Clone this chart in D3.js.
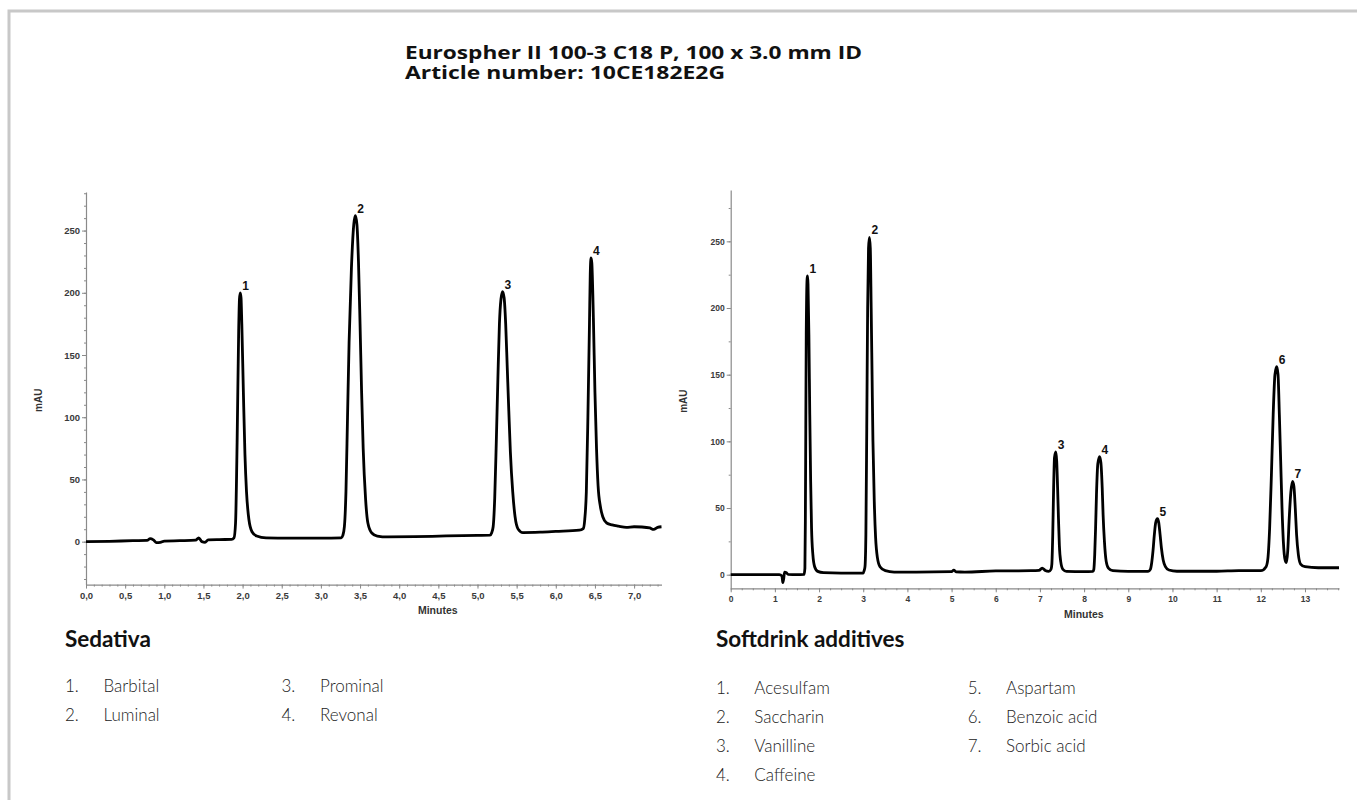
<!DOCTYPE html>
<html><head><meta charset="utf-8">
<script src="https://cdn.jsdelivr.net/npm/d3@7"></script>
<style>
html,body{margin:0;padding:0;background:#fff;}
svg{display:block;}
</style></head>
<body>
<svg id="chart" width="1357" height="800"></svg>
<script>
// ---------- DATA ----------
const titleLines = ["Eurospher II 100-3 C18 P, 100 x 3.0 mm ID", "Article number: 10CE182E2G"];
const titleWidths = [457, 320];

// Left chromatogram: Sedativa  [minutes, mAU]
const sedativaTrace = [
 [0,0],[0.3,0.3],[0.6,0.8],[0.78,1],[0.82,2.5],[0.86,1.5],[0.9,-0.8],[0.95,-0.5],[1.0,0.5],[1.2,0.8],[1.4,1.2],
 [1.44,3],[1.48,0],[1.52,-0.5],[1.56,1.5],[1.7,1.7],[1.86,1.8],[1.89,3],
 [1.91,15],[1.93,80],[1.95,170],[1.96,195],[1.97,200],[1.98,196],[1.99,175],[2.01,120],[2.03,70],[2.05,40],[2.08,18],
 [2.12,8],[2.18,4.5],[2.3,3],[2.6,2.8],[3.0,2.8],[3.26,3],
 [3.28,5],[3.3,12],[3.32,40],[3.34,100],[3.36,160],[3.39,220],[3.42,255],[3.44,262],[3.46,255],[3.48,225],[3.5,175],
 [3.52,120],[3.54,75],[3.57,35],[3.6,15],[3.65,7],[3.72,4.5],[3.85,3.8],[4.2,4],[4.6,4.6],[5.0,5],[5.16,5.2],
 [5.18,7],[5.2,12],[5.22,35],[5.24,80],[5.26,130],[5.28,175],[5.3,195],[5.32,201],[5.34,196],[5.36,175],[5.38,140],
 [5.4,105],[5.42,72],[5.45,40],[5.48,20],[5.52,10],[5.58,7.3],[5.8,7.6],[6.0,8.2],[6.3,9.2],[6.35,10.5],
 [6.37,18],[6.39,40],[6.41,100],[6.43,175],[6.44,215],[6.45,228],[6.46,224],[6.48,180],[6.5,120],[6.52,75],
 [6.54,45],[6.57,28],[6.6,20],[6.65,15],[6.72,13.5],[6.8,12.5],[6.9,11.5],[7.0,12],[7.1,11.8],[7.2,11],
 [7.25,9.8],[7.3,11.5],[7.35,12]
];
const sedativaPeakIds = ["1","2","3","4"];
const sedativaPeakTimes = [1.97, 3.44, 5.32, 6.45];
const sedativaPeakHeights = [200, 262, 201, 228];
const sedativaXTicks = [0,0.5,1,1.5,2,2.5,3,3.5,4,4.5,5,5.5,6,6.5,7];
const sedativaYTicks = [0,50,100,150,200,250];
const sedativaNames = ["Barbital","Luminal","Prominal","Revonal"];

// Right chromatogram: Softdrink additives  [minutes, mAU]
const softdrinkTrace = [
 [0,0],[0.8,0],[1.1,0],[1.16,-1],[1.18,-6],[1.2,-3],[1.22,2],[1.26,1.5],[1.3,0.2],[1.5,0],[1.66,0.2],
 [1.68,5],[1.69,40],[1.70,110],[1.71,180],[1.73,222],[1.74,224],[1.75,218],[1.77,180],[1.79,120],[1.81,70],
 [1.83,35],[1.86,15],[1.9,6],[1.97,2.5],[2.1,1.5],[2.5,1.2],[3.0,1.2],[3.02,3],
 [3.04,6],[3.06,30],[3.08,110],[3.10,200],[3.12,245],[3.14,253],[3.16,245],[3.18,200],[3.2,150],[3.22,100],
 [3.25,55],[3.28,28],[3.32,13],[3.38,6],[3.5,3],[3.7,2],[4.2,2],[5.0,2.3],[5.05,3.5],[5.1,2.2],[5.3,2],
 [6.0,2.8],[6.8,3],[6.98,3.2],[7.05,5],[7.12,3.2],[7.2,2.5],[7.25,4],
 [7.27,8],[7.29,30],[7.31,65],[7.33,88],[7.36,92],[7.38,85],[7.40,65],[7.42,42],[7.44,22],[7.47,10],[7.52,4],
 [7.6,2.5],[8.0,2.3],[8.2,2.5],
 [8.22,4],[8.24,15],[8.26,35],[8.28,60],[8.31,83],[8.35,88.5],[8.38,84],[8.41,65],[8.43,45],[8.46,25],[8.5,10],
 [8.55,5],[8.65,3],[9.0,2.5],[9.45,2.5],[9.5,4],
 [9.53,9],[9.56,18],[9.59,30],[9.62,39],[9.66,42],[9.69,39],[9.72,30],[9.75,20],[9.79,11],[9.84,6],[9.92,3.5],
 [10.1,2.6],[11.0,2.6],[11.5,3],[12.0,3],[12.12,6],
 [12.16,12],[12.2,35],[12.24,75],[12.28,120],[12.32,150],[12.36,156],[12.39,150],[12.42,120],[12.45,85],
 [12.48,50],[12.51,25],[12.55,11],[12.58,9],[12.61,18],[12.64,40],[12.68,62],[12.72,70],[12.75,66],[12.78,50],
 [12.81,30],[12.85,15],[12.9,8],[13.0,6],[13.3,5.2],[13.77,5.2]
];
const softdrinkPeakIds = ["1","2","3","4","5","6","7"];
const softdrinkPeakTimes = [1.74, 3.14, 7.36, 8.35, 9.66, 12.36, 12.72];
const softdrinkPeakHeights = [224, 253, 92, 88.5, 42, 156, 70];
const softdrinkXTicks = [0,1,2,3,4,5,6,7,8,9,10,11,12,13];
const softdrinkYTicks = [0,50,100,150,200,250];
const softdrinkNames = ["Acesulfam","Saccharin","Vanilline","Caffeine","Aspartam","Benzoic acid","Sorbic acid"];

// ---------- DRAW ----------
const svg = d3.select("#chart");
const uiFont = "Lato, 'Open Sans', sans-serif";

// frame (top and left border)
svg.append("path").attr("d","M9,800 V11 H1357").attr("fill","none")
   .attr("stroke","#c8c8c8").attr("stroke-width",3);

// title
titleLines.forEach((t,i)=> svg.append("text").attr("x",405).attr("y",59+i*19.5)
  .attr("font-family","'Open Sans', Lato, sans-serif").attr("font-weight",700)
  .attr("font-size",18.5).attr("fill","#111")
  .attr("textLength",titleWidths[i]).attr("lengthAdjust","spacingAndGlyphs").text(t));

function chromatogram(cfg){
  const g = svg.append("g");
  const x = d3.scaleLinear().domain(cfg.xDomain).range(cfg.xRange);
  const y = d3.scaleLinear().domain(cfg.yDomain).range(cfg.yRange);
  const axisColor = "#8a8a8a";
  const tickFont = "Arial, 'Liberation Sans', sans-serif";

  // minor ticks
  g.append("g").attr("transform",`translate(0,${cfg.yRange[0]})`)
    .call(d3.axisBottom(x).tickValues(d3.range(cfg.xDomain[0], cfg.xDomain[1]+1e-9, cfg.xMinor)).tickSize(2).tickFormat(""))
    .call(a=>{a.selectAll("line").attr("stroke",axisColor);a.select(".domain").remove();});
  g.append("g").attr("transform",`translate(${cfg.xRange[0]},0)`)
    .call(d3.axisLeft(y).tickValues(d3.range(Math.ceil(cfg.yDomain[0]/cfg.yMinor)*cfg.yMinor, cfg.yDomain[1], cfg.yMinor)).tickSize(2).tickFormat(""))
    .call(a=>{a.selectAll("line").attr("stroke",axisColor);a.select(".domain").remove();});

  // major axes
  const xa = g.append("g").attr("transform",`translate(0,${cfg.yRange[0]})`)
    .call(d3.axisBottom(x).tickValues(cfg.xTicks).tickSize(4).tickSizeOuter(0).tickPadding(4).tickFormat(cfg.xFormat));
  const ya = g.append("g").attr("transform",`translate(${cfg.xRange[0]},0)`)
    .call(d3.axisLeft(y).tickValues(cfg.yTicks).tickSize(4).tickSizeOuter(0).tickPadding(2).tickFormat(d3.format("d")));
  [xa,ya].forEach(a=>{
    a.select(".domain").attr("stroke",axisColor).attr("stroke-width",1.2);
    a.selectAll(".tick line").attr("stroke",axisColor);
    a.selectAll(".tick text").attr("font-family",tickFont).attr("font-weight",700)
      .attr("font-size",cfg.tickSize).attr("fill","#3a3a3a");
  });

  // axis titles
  g.append("text").attr("x",(cfg.xRange[0]+cfg.xRange[1])/2 + cfg.minutesDx).attr("y",cfg.yRange[0]+cfg.minutesDy)
    .attr("text-anchor","middle").attr("font-family",tickFont).attr("font-weight",700)
    .attr("font-size",10.5).attr("fill","#333").text("Minutes");
  g.append("text").attr("transform",`translate(${cfg.mauX},${(cfg.yRange[0]+cfg.yRange[1])/2+12}) rotate(-90)`)
    .attr("text-anchor","middle").attr("font-family",tickFont).attr("font-weight",700)
    .attr("font-size",10).attr("fill","#333").text("mAU");

  // trace
  const line = d3.line().x(d=>x(d[0])).y(d=>y(d[1])).curve(d3.curveMonotoneX);
  g.append("path").datum(cfg.trace).attr("d",line).attr("fill","none")
    .attr("stroke","#000").attr("stroke-width",2.8).attr("stroke-linejoin","round");

  // peak labels
  cfg.ids.forEach((id,i)=>{
    g.append("text").attr("x",x(cfg.times[i])+2).attr("y",y(cfg.heights[i])-3)
      .attr("font-family",tickFont).attr("font-weight",700).attr("font-size",12)
      .attr("fill","#111").text(id);
  });

  // legend
  svg.append("text").attr("x",cfg.legX).attr("y",647)
    .attr("font-family",uiFont).attr("font-weight",700)
    .attr("font-size",22.5).attr("fill","#111").text(cfg.name);
  cfg.names.forEach((n,i)=>{
    const col = i < cfg.perCol ? 0 : 1;
    const row = i < cfg.perCol ? i : i - cfg.perCol;
    const bx = cfg.legX + col*cfg.colW;
    const by = cfg.legY + row*cfg.rowH;
    svg.append("text").attr("x",bx).attr("y",by)
      .attr("font-family",uiFont).attr("font-weight",300)
      .attr("font-size",17).attr("fill","#222").text((i+1)+".");
    svg.append("text").attr("x",bx+cfg.nameDx).attr("y",by)
      .attr("font-family",uiFont).attr("font-weight",300)
      .attr("font-size",17).attr("fill","#222").text(n);
  });
}

chromatogram({
  xDomain:[0,7.35], xRange:[86,661.5], yDomain:[-34.5,281], yRange:[584.6,192],
  xTicks:sedativaXTicks, yTicks:sedativaYTicks, xMinor:0.1, yMinor:10, tickSize:9.5,
  xFormat: d=>d3.format(".1f")(d).replace(".",","),
  trace:sedativaTrace, ids:sedativaPeakIds, times:sedativaPeakTimes, heights:sedativaPeakHeights,
  minutesDx:64, minutesDy:29, mauX:42,
  name:"Sedativa", names:sedativaNames, legX:65, legY:692, rowH:28.5, perCol:2, colW:216.5, nameDx:38.5
});
chromatogram({
  xDomain:[0,13.77], xRange:[730.7,1339], yDomain:[-10.2,288.5], yRange:[588.3,190],
  xTicks:softdrinkXTicks, yTicks:softdrinkYTicks, xMinor:0.25, yMinor:25, tickSize:8.5,
  xFormat: d3.format("d"),
  trace:softdrinkTrace, ids:softdrinkPeakIds, times:softdrinkPeakTimes, heights:softdrinkPeakHeights,
  minutesDx:49, minutesDy:30, mauX:687,
  name:"Softdrink additives", names:softdrinkNames, legX:716, legY:694, rowH:29, perCol:4, colW:251.7, nameDx:38.3
});
</script>
</body></html>
